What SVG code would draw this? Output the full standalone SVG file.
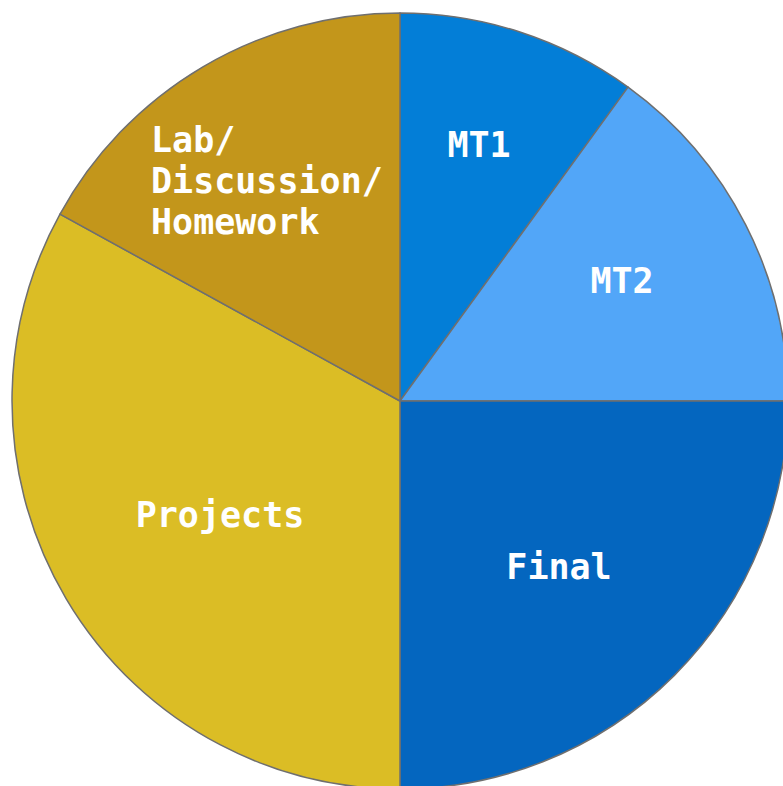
<svg xmlns="http://www.w3.org/2000/svg" width="783" height="786" viewBox="0 0 783 786">
<style>
.slice{stroke:#6f6f6f;stroke-width:1.5;stroke-linejoin:round}
.lbl{font-family:"DejaVu Sans Mono",monospace;font-weight:bold;font-size:35px;fill:#ffffff}
</style>
<rect width="783" height="786" fill="#ffffff"/>
<g id="slice-mt1">
<path class="slice" fill="#037ed7" d="M400,401 L400,13 A388,388 0 0 1 628.06,87.1 Z"/>
<text class="lbl" x="479" y="157" text-anchor="middle">MT1</text>
</g>
<g id="slice-mt2">
<path class="slice" fill="#52a6f8" d="M400,401 L628.06,87.1 A388,388 0 0 1 788,401 Z"/>
<text class="lbl" x="622" y="292.5" text-anchor="middle">MT2</text>
</g>
<g id="slice-final">
<path class="slice" fill="#0466bf" d="M400,401 L788,401 A388,388 0 0 1 400,789 Z"/>
<text class="lbl" x="559" y="578.5" text-anchor="middle">Final</text>
</g>
<g id="slice-projects">
<path class="slice" fill="#dbbd25" d="M400,401 L400,789 A388,388 0 0 1 60,214.1 Z"/>
<text class="lbl" x="220" y="526.5" text-anchor="middle">Projects</text>
</g>
<g id="slice-lab">
<path class="slice" fill="#c3961b" d="M400,401 L60,214.1 A388,388 0 0 1 400,13 Z"/>
<text class="lbl" x="151" y="152">Lab/</text>
<text class="lbl" x="151" y="193">Discussion/</text>
<text class="lbl" x="151" y="234">Homework</text>
</g>
<g id="connectors"></g>
</svg>
